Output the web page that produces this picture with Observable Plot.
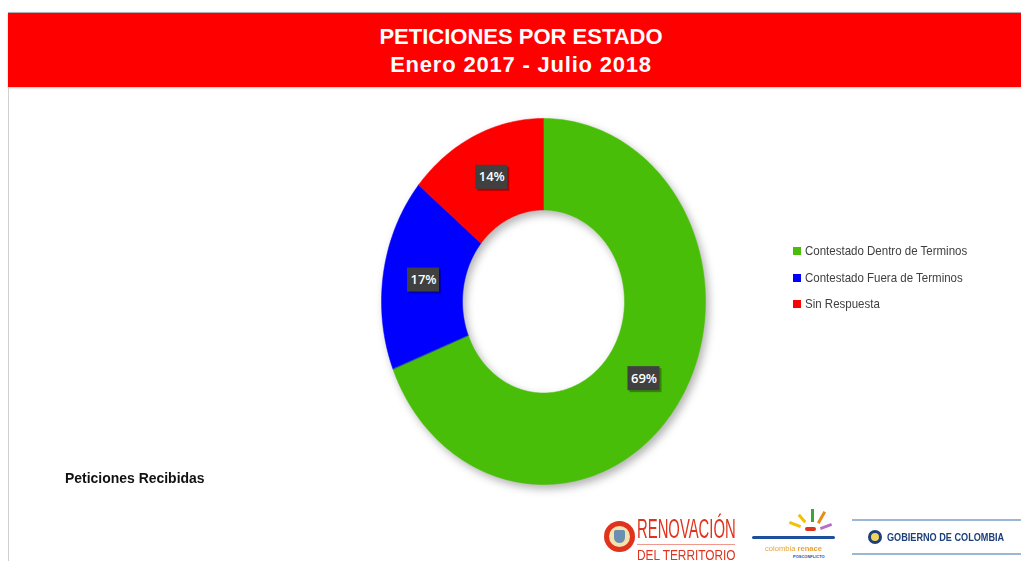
<!DOCTYPE html>
<html><head><meta charset="utf-8">
<script src="https://cdn.jsdelivr.net/npm/d3@7"></script>
<script src="https://cdn.jsdelivr.net/npm/@observablehq/plot@0.6"></script>
<style>
html,body{margin:0;padding:0;}
body{width:1021px;height:561px;overflow:hidden;background:#fff;position:relative;font-family:"Liberation Sans",Arial,sans-serif;}
#banner{position:absolute;left:8px;top:12px;width:1013px;height:75px;background:#ff0000;border-top:1px solid #b0b0b0;box-sizing:border-box;color:#fff;font-weight:bold;font-size:22px;line-height:28px;box-shadow:0 1px 2px rgba(0,0,0,0.25);}
#banner div{position:absolute;left:0;width:1026px;text-align:center;white-space:nowrap;}
#leftline{position:absolute;left:8px;top:87px;width:1px;height:474px;background:#d0d0d0;}
#chart{position:absolute;left:8px;top:87px;}
#legend{position:absolute;left:793px;top:243px;font-size:13px;color:#404040;}
#legend .row{position:absolute;left:0;white-space:nowrap;height:16px;line-height:16px;}
#legend .sw{display:inline-block;width:8px;height:8px;margin-right:4px;vertical-align:0px;}
#legend .tx{display:inline-block;transform:scaleX(0.885);transform-origin:left center;}
#caption{position:absolute;left:65px;top:469px;font-weight:bold;font-size:15.5px;color:#111;transform:scaleX(0.9);transform-origin:left top;white-space:nowrap;}
.logo{position:absolute;white-space:nowrap;}
</style>
</head><body>
<div id="banner"></div>
<div id="leftline"></div>
<div id="chart"></div>
<div id="legend"></div>
<div id="caption"></div>

<div class="logo" style="left:604px;top:521px;width:31px;height:31px;border-radius:50%;background:#e0331e;"></div>
<div class="logo" style="left:609px;top:526px;width:21px;height:21px;border-radius:50%;background:#f3e3b0;"></div>
<div class="logo" style="left:614px;top:530px;width:11px;height:13px;border-radius:2px 2px 6px 6px;background:#6a8fb0;"></div>
<div class="logo" style="left:637px;top:514px;color:#e0331e;font-size:27px;line-height:normal;transform:scaleX(0.55);transform-origin:left top;">RENOVACIÓN</div>
<div class="logo" style="left:637px;top:544px;width:98px;height:1px;background:#e0331e;opacity:0.5"></div>
<div class="logo" style="left:637px;top:546px;color:#e0331e;font-size:15px;line-height:normal;transform:scaleX(0.79);transform-origin:left top;">DEL TERRITORIO</div>

<div class="logo" style="left:797px;top:517px;width:10px;height:3px;background:#f2c200;transform:rotate(50deg);"></div>
<div class="logo" style="left:811px;top:509px;width:3px;height:13px;background:#3aa635;"></div>
<div class="logo" style="left:820px;top:511px;width:3px;height:13px;background:#e88c1a;transform:rotate(30deg);"></div>
<div class="logo" style="left:789px;top:523px;width:12px;height:3px;background:#f2c200;transform:rotate(20deg);"></div>
<div class="logo" style="left:805px;top:527px;width:11px;height:4px;background:#e0331e;border-radius:2px;"></div>
<div class="logo" style="left:820px;top:525px;width:12px;height:3px;background:#b66fc2;transform:rotate(-20deg);"></div>
<div class="logo" style="left:752px;top:536px;width:83px;height:3px;background:#1d4f9e;border-radius:2px;"></div>
<div class="logo" style="left:765px;top:544px;color:#e9a23b;font-size:8px;line-height:9px;transform:scaleX(0.95);transform-origin:left top;">colombia <b>renace</b></div>
<div class="logo" style="left:793px;top:554px;color:#1d4f9e;font-size:4px;line-height:5px;font-weight:bold;">POSCONFLICTO</div>

<div class="logo" style="left:852px;top:519px;width:169px;height:2px;background:#9bb7d4;"></div>
<div class="logo" style="left:852px;top:553px;width:169px;height:2px;background:#9bb7d4;"></div>
<div class="logo" style="left:868px;top:530px;width:14px;height:14px;border-radius:50%;background:#1d3f7a;"></div>
<div class="logo" style="left:871px;top:533px;width:8px;height:8px;border-radius:50%;background:#f2d35c;"></div>
<div class="logo" style="left:887px;top:531px;color:#1d3f7a;font-weight:bold;font-size:11px;line-height:13px;transform:scaleX(0.83);transform-origin:left top;">GOBIERNO DE COLOMBIA</div>

<script>
const titleLines = ["PETICIONES POR ESTADO", "Enero 2017 - Julio 2018"];
const categories = ["Contestado Dentro de Terminos", "Contestado Fuera de Terminos", "Sin Respuesta"];
const percents = [69, 17, 14];
const colors = ["#48BE08", "#0000FF", "#FF0000"];
const captionText = "Peticiones Recibidas";

// Title
const banner = document.getElementById("banner");
titleLines.forEach((t, i) => {
  const d = document.createElement("div");
  d.textContent = t;
  d.style.top = (10 + i * 28) + "px";
  if (i === 1) d.style.letterSpacing = "0.8px";
  banner.appendChild(d);
});
document.getElementById("caption").textContent = captionText;

// Legend
const legend = document.getElementById("legend");
categories.forEach((c, i) => {
  const r = document.createElement("div");
  r.className = "row";
  r.style.top = (i * 26.5) + "px";
  const s = document.createElement("span");
  s.className = "sw";
  s.style.background = colors[i];
  r.appendChild(s);
  const t = document.createElement("span");
  t.className = "tx";
  t.textContent = c;
  r.appendChild(t);
  legend.appendChild(r);
});

// Donut geometry from the values
const total = d3.sum(percents);
const innerR = 0.5;
let acc = 0;
const ringPts = [];
const labels = [];
categories.forEach((c, i) => {
  const a0 = acc / total * 2 * Math.PI;
  acc += percents[i];
  const a1 = acc / total * 2 * Math.PI;
  const n = Math.max(2, Math.ceil((a1 - a0) / (Math.PI / 180)));
  for (let k = 0; k <= n; k++) {
    const a = a0 + (a1 - a0) * k / n;
    ringPts.push({cat: c, x: Math.sin(a), y: Math.cos(a)});
  }
  for (let k = n; k >= 0; k--) {
    const a = a0 + (a1 - a0) * k / n;
    ringPts.push({cat: c, x: innerR * Math.sin(a), y: innerR * Math.cos(a)});
  }
  const am = (a0 + a1) / 2, rm = (1 + innerR) / 2;
  labels.push({cat: c, x: rm * Math.sin(am), y: rm * Math.cos(am), text: percents[i] + "%"});
});

const chart = Plot.plot({
  width: 1013,
  height: 474,
  marginLeft: 373,
  marginRight: 316,
  marginTop: 31,
  marginBottom: 77,
  x: {domain: [-1, 1], axis: null},
  y: {domain: [-1, 1], axis: null},
  color: {domain: categories, range: colors},
  style: {background: "transparent", overflow: "visible"},
  marks: [
    Plot.line(ringPts, {x: "x", y: "y", z: "cat", fill: "cat", stroke: "cat", strokeWidth: 0.5, curve: "linear-closed"}),
    Plot.rect(labels, {x1: "x", x2: "x", y1: "y", y2: "y", insetLeft: -16, insetRight: -16, insetTop: -12, insetBottom: -12, fill: "#000", fillOpacity: 0.3, dx: 2, dy: 2}),
    Plot.rect(labels, {x1: "x", x2: "x", y1: "y", y2: "y", insetLeft: -16, insetRight: -16, insetTop: -12, insetBottom: -12, fill: "#404040"}),
    Plot.text(labels, {x: "x", y: "y", text: "text", fill: "white", fontSize: 13, fontFamily: "Open Sans", fontWeight: 600})
  ]
});
d3.select(chart).select('g[aria-label="line"]').style("filter", "drop-shadow(3px 4px 4px rgba(0,0,0,0.3))");
document.getElementById("chart").appendChild(chart);
</script>
</body></html>
